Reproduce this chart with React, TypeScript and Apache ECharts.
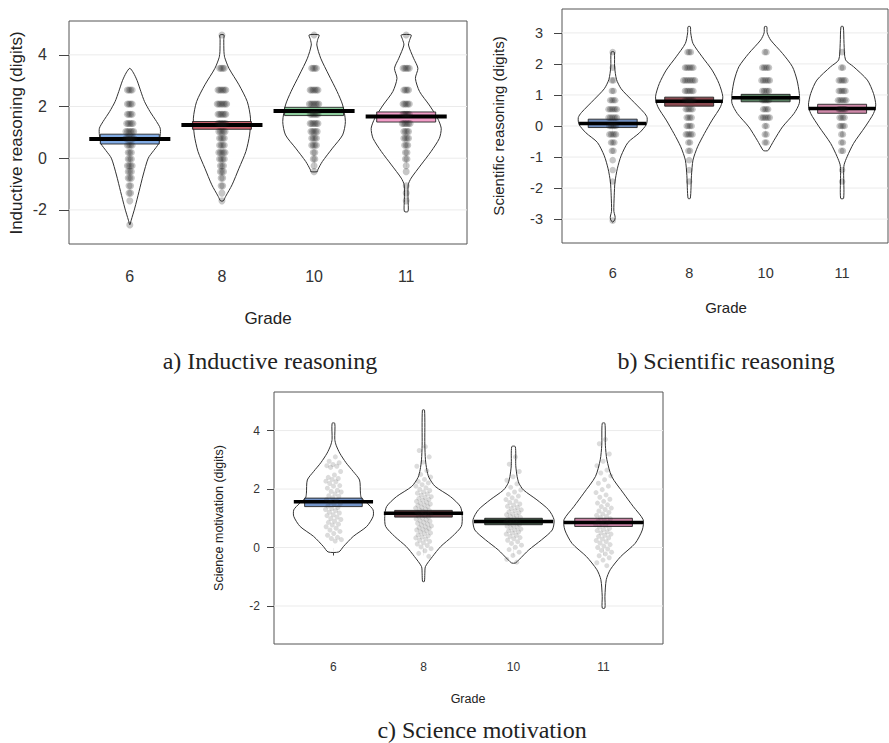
import { useEffect, useRef } from 'react';
import * as echarts from 'echarts';

const grades = ['6', '8', '10', '11'];

// ---------- Panel a: Inductive reasoning ----------
const ticksA = [-2, 0, 2, 4];
const meansA = [0.74, 1.29, 1.83, 1.61];
const hdiLowA = [0.55, 1.12, 1.65, 1.4];
const hdiHighA = [0.93, 1.42, 1.97, 1.79];
const colorsA = ['#6f9fe0', '#c8505c', '#7cc48e', '#f090c0'];
const levelsA = [-2.58, -1.65, -1.35, -1.07, -0.77, -0.52, -0.29, -0.03, 0.22, 0.5, 0.77, 1.03, 1.34, 1.7, 2.1, 2.64, 3.48, 4.77];
const countsA6 = [1, 1, 2, 2, 3, 3, 4, 3, 3, 4, 6, 6, 5, 4, 4, 4, 0, 0];
const countsA8 = [0, 1, 1, 2, 2, 3, 3, 4, 5, 4, 4, 5, 6, 6, 7, 6, 4, 1];
const countsA10 = [0, 0, 0, 0, 0, 1, 1, 2, 2, 4, 4, 5, 6, 6, 7, 6, 4, 1];
const countsA11 = [0, 1, 1, 1, 0, 1, 1, 2, 2, 3, 4, 4, 6, 5, 5, 4, 5, 1];
const violinA6 = [[-2.58, 0], [-2.4, 0.015], [-1.93, 0.054], [-1.29, 0.1], [-0.65, 0.145], [0, 0.2], [0.3, 0.26], [0.55, 0.31], [0.9, 0.33], [1.16, 0.33], [1.42, 0.29], [1.8, 0.22], [2.19, 0.16], [2.58, 0.12], [3.0, 0.08], [3.3, 0.04], [3.48, 0]];
const violinA8 = [[-1.65, 0.015], [-1.48, 0.04], [-1.03, 0.11], [-0.39, 0.185], [0.26, 0.26], [0.9, 0.3], [1.55, 0.31], [2.19, 0.275], [2.84, 0.185], [3.48, 0.076], [3.9, 0.03], [4.12, 0.022], [4.6, 0.02], [4.77, 0.022]];
const violinA10 = [[-0.52, 0.036], [-0.45, 0.04], [-0.13, 0.09], [0.39, 0.2], [0.9, 0.31], [1.42, 0.34], [2.06, 0.31], [2.58, 0.25], [3.22, 0.16], [3.87, 0.072], [4.38, 0.03], [4.6, 0.04], [4.77, 0.054]];
const violinA11 = [[-2.06, 0.02], [-1.6, 0.02], [-1.03, 0.022], [-0.77, 0.054], [-0.26, 0.16], [0.26, 0.27], [0.77, 0.36], [1.16, 0.38], [1.55, 0.34], [2.06, 0.25], [2.58, 0.145], [3.09, 0.1], [3.48, 0.127], [3.87, 0.08], [4.38, 0.025], [4.6, 0.04], [4.77, 0.054]];

// ---------- Panel b: Scientific reasoning ----------
const ticksB = [-3, -2, -1, 0, 1, 2, 3];
const meansB = [0.08, 0.8, 0.91, 0.56];
const hdiLowB = [-0.05, 0.64, 0.78, 0.41];
const hdiHighB = [0.22, 0.93, 1.02, 0.7];
const colorsB = ['#5b7db5', '#7a3038', '#3f6b49', '#c97a9e'];
const levelsB = [-3.05, -2.33, -1.79, -1.42, -1.1, -0.8, -0.53, -0.27, 0.0, 0.27, 0.54, 0.83, 1.13, 1.47, 1.88, 2.38, 3.2];
const countsB6 = [1, 0, 1, 1, 1, 2, 3, 5, 5, 6, 6, 4, 2, 2, 1, 1, 0];
const countsB8 = [0, 0, 1, 1, 1, 2, 2, 5, 4, 4, 5, 6, 6, 8, 6, 3, 0];
const countsB10 = [0, 0, 0, 0, 0, 0, 2, 2, 2, 6, 4, 5, 5, 6, 5, 2, 0];
const countsB11 = [0, 0, 1, 1, 0, 2, 2, 2, 4, 4, 5, 6, 5, 5, 2, 1, 0];
const violinB6 = [[-3.1, 0], [-3.0, 0.03], [-2.9, 0.03], [-2.75, 0.015], [-2.23, 0.02], [-1.8, 0.03], [-1.38, 0.06], [-0.96, 0.11], [-0.53, 0.2], [-0.22, 0.35], [0.05, 0.44], [0.27, 0.45], [0.43, 0.41], [0.86, 0.24], [1.2, 0.11], [1.5, 0.05], [1.9, 0.025], [2.38, 0.02]];
const violinB8 = [[-2.33, 0.015], [-1.6, 0.03], [-1.1, 0.05], [-0.67, 0.11], [-0.24, 0.2], [0.19, 0.3], [0.62, 0.41], [0.94, 0.44], [1.37, 0.39], [1.8, 0.3], [2.23, 0.17], [2.66, 0.05], [3.0, 0.02], [3.2, 0.015]];
const violinB10 = [[-0.8, 0.02], [-0.78, 0.035], [-0.46, 0.11], [-0.03, 0.22], [0.4, 0.37], [0.73, 0.44], [1.05, 0.44], [1.48, 0.41], [1.91, 0.35], [2.34, 0.22], [2.77, 0.065], [3.0, 0.02], [3.2, 0.015]];
const violinB11 = [[-2.33, 0.02], [-1.5, 0.02], [-1.25, 0.026], [-0.99, 0.065], [-0.56, 0.15], [-0.03, 0.3], [0.4, 0.41], [0.68, 0.44], [1.05, 0.41], [1.48, 0.33], [1.91, 0.15], [2.13, 0.045], [2.66, 0.025], [3.2, 0.015]];

// ---------- Panel c: Science motivation ----------
const ticksC = [-2, 0, 2, 4];
const meansC = [1.57, 1.17, 0.89, 0.86];
const hdiLowC = [1.4, 1.04, 0.78, 0.72];
const hdiHighC = [1.69, 1.27, 1.0, 1.0];
const colorsC = ['#5f84c0', '#5a2a30', '#27402d', '#c07096'];
const scoresC6 = [3.1, 2.95, 2.9, 2.84, 2.8, 2.78, 2.74, 2.6, 2.48, 2.4, 2.36, 2.33, 2.27, 2.25, 2.19, 2.12, 2.1, 2.03, 1.96, 1.92, 1.9, 1.83, 1.77, 1.75, 1.7, 1.64, 1.61, 1.55, 1.5, 1.48, 1.42, 1.37, 1.33, 1.3, 1.26, 1.21, 1.18, 1.12, 1.09, 1.04, 0.99, 0.96, 0.9, 0.86, 0.8, 0.77, 0.71, 0.66, 0.6, 0.55, 0.48, 0.42, 0.35, 0.31, 0.27, 0.22];
const scoresC8 = [3.45, 3.32, 3.1, 2.92, 2.78, 2.63, 2.5, 2.41, 2.33, 2.26, 2.21, 2.15, 2.1, 2.04, 1.99, 1.95, 1.9, 1.86, 1.83, 1.79, 1.74, 1.71, 1.68, 1.64, 1.62, 1.58, 1.55, 1.52, 1.49, 1.46, 1.44, 1.4, 1.37, 1.35, 1.31, 1.29, 1.26, 1.23, 1.2, 1.18, 1.15, 1.12, 1.09, 1.07, 1.04, 1.01, 0.98, 0.95, 0.92, 0.9, 0.86, 0.83, 0.8, 0.77, 0.74, 0.71, 0.68, 0.65, 0.62, 0.6, 0.57, 0.53, 0.5, 0.47, 0.43, 0.4, 0.36, 0.33, 0.29, 0.25, 0.21, 0.16, 0.12, 0.07, 0.02, -0.04, -0.11, -0.2, -0.3];
const scoresC10 = [3.1, 2.85, 2.6, 2.42, 2.3, 2.18, 2.06, 1.97, 1.9, 1.82, 1.76, 1.7, 1.64, 1.59, 1.54, 1.49, 1.45, 1.41, 1.37, 1.33, 1.29, 1.26, 1.22, 1.19, 1.15, 1.12, 1.09, 1.06, 1.03, 1.0, 0.97, 0.94, 0.91, 0.88, 0.85, 0.82, 0.79, 0.76, 0.73, 0.7, 0.67, 0.63, 0.6, 0.57, 0.53, 0.5, 0.46, 0.42, 0.38, 0.34, 0.3, 0.25, 0.2, 0.14, 0.08, 0.01, -0.07, -0.16, -0.27, -0.4, -0.5];
const scoresC11 = [3.7, 3.55, 3.2, 2.95, 2.8, 2.65, 2.55, 2.45, 2.32, 2.2, 2.1, 1.98, 1.88, 1.8, 1.72, 1.65, 1.58, 1.52, 1.46, 1.4, 1.35, 1.3, 1.25, 1.2, 1.15, 1.1, 1.06, 1.02, 0.98, 0.94, 0.9, 0.86, 0.82, 0.78, 0.74, 0.7, 0.66, 0.62, 0.58, 0.54, 0.5, 0.46, 0.42, 0.38, 0.33, 0.29, 0.24, 0.2, 0.15, 0.1, 0.05, 0.0, -0.05, -0.1, -0.16, -0.22, -0.28, -0.35, -0.43, -0.52, -0.62];
const violinC6 = [[-0.15, 0.06], [0.03, 0.11], [0.38, 0.22], [0.72, 0.37], [1.06, 0.44], [1.29, 0.44], [1.5, 0.38], [1.7, 0.31], [1.86, 0.3], [2.31, 0.29], [2.6, 0.22], [2.9, 0.14], [3.23, 0.07], [3.5, 0.03], [3.7, 0.015], [4.25, 0.015]];
const violinC8 = [[-1.16, 0.01], [-0.9, 0.015], [-0.65, 0.022], [-0.31, 0.1], [0.03, 0.19], [0.38, 0.32], [0.72, 0.42], [1.06, 0.43], [1.4, 0.41], [1.74, 0.3], [2.09, 0.13], [2.4, 0.06], [2.66, 0.037], [3.0, 0.022], [3.5, 0.015], [4.7, 0.012]];
const violinC10 = [[-0.53, 0.02], [-0.42, 0.06], [-0.08, 0.17], [0.26, 0.31], [0.6, 0.43], [0.95, 0.45], [1.29, 0.39], [1.63, 0.26], [1.97, 0.11], [2.2, 0.06], [2.43, 0.04], [2.8, 0.025], [3.45, 0.02]];
const violinC11 = [[-2.07, 0.015], [-1.67, 0.015], [-1.1, 0.03], [-0.76, 0.074], [-0.31, 0.19], [0.14, 0.35], [0.6, 0.43], [0.95, 0.44], [1.4, 0.33], [1.86, 0.22], [2.43, 0.09], [3.0, 0.037], [3.5, 0.02], [4.25, 0.015]];

const SANS = '"Liberation Sans", Arial, Helvetica, sans-serif';
const SERIF = '"Liberation Serif", "Times New Roman", Times, serif';

function rowPoints(levels: number[], counts: number[][], step: number) {
  const out: number[][] = [];
  counts.forEach((cs, g) => {
    cs.forEach((n, i) => {
      for (let k = 0; k < n; k++) out.push([g + 1 + (k - (n - 1) / 2) * step, levels[i]]);
    });
  });
  return out;
}

function cloudPoints(groups: number[][], jitter: number) {
  const out: number[][] = [];
  groups.forEach((vals, g) => {
    vals.forEach((v, i) => {
      const f = ((i + 1) * 0.6180339887) % 1;
      out.push([g + 1 + (f - 0.5) * 2 * jitter, v]);
    });
  });
  return out;
}

const panels = [
  {
    grid: { left: 69, top: 21, width: 398, height: 223 },
    xMin: 0.34, xMax: 4.66, yMin: -3.32, yMax: 5.31,
    ticks: ticksA, means: meansA, lo: hdiLowA, hi: hdiHighA, colors: colorsA,
    violins: [violinA6, violinA8, violinA10, violinA11],
    points: rowPoints(levelsA, [countsA6, countsA8, countsA10, countsA11], 0.017),
    pointSize: 7, pointColor: 'rgba(20,20,20,0.3)',
    fontSize: 16, xTickLen: 9, yTickLen: 10, xMargin: 24, yMargin: 22, meanWidth: 4,
  },
  {
    grid: { left: 562, top: 9, width: 326, height: 234 },
    xMin: 0.337, xMax: 4.6, yMin: -3.77, yMax: 3.77,
    ticks: ticksB, means: meansB, lo: hdiLowB, hi: hdiHighB, colors: colorsB,
    violins: [violinB6, violinB8, violinB10, violinB11],
    points: rowPoints(levelsB, [countsB6, countsB8, countsB10, countsB11], 0.022),
    pointSize: 6.5, pointColor: 'rgba(20,20,20,0.3)',
    fontSize: 14.5, xTickLen: 10, yTickLen: 8, xMargin: 22, yMargin: 19, meanWidth: 3.5,
  },
  {
    grid: { left: 274, top: 392, width: 389, height: 252 },
    xMin: 0.34, xMax: 4.66, yMin: -3.3, yMax: 5.32,
    ticks: ticksC, means: meansC, lo: hdiLowC, hi: hdiHighC, colors: colorsC,
    violins: [violinC6, violinC8, violinC10, violinC11],
    points: cloudPoints([scoresC6, scoresC8, scoresC10, scoresC11], 0.09),
    pointSize: 5, pointColor: 'rgba(40,40,40,0.2)',
    fontSize: 12, xTickLen: 8, yTickLen: 7, xMargin: 17, yMargin: 14, meanWidth: 3.5,
  },
];

function buildOption() {
  const series: any[] = [];
  panels.forEach((P, p) => {
    series.push({
      type: 'custom', xAxisIndex: p, yAxisIndex: p, silent: true,
      data: P.ticks.map((t) => [t]),
      renderItem: (params: any, api: any) => {
        const cs = params.coordSys;
        const y = api.coord([P.xMin, api.value(0)])[1];
        return { type: 'line', shape: { x1: cs.x, y1: y, x2: cs.x + cs.width, y2: y }, style: { stroke: '#ebebeb', lineWidth: 1 } };
      },
    });
    series.push({
      type: 'custom', xAxisIndex: p, yAxisIndex: p, silent: true,
      data: P.violins.map((_, g) => [g]),
      renderItem: (params: any, api: any) => {
        const g = api.value(0);
        const prof = P.violins[g];
        const cx = g + 1;
        const pts: number[][] = [];
        prof.forEach(([v, hw]) => pts.push(api.coord([cx + hw, v])));
        for (let i = prof.length - 1; i >= 0; i--) {
          const [v, hw] = prof[i];
          if (hw === 0) continue;
          pts.push(api.coord([cx - hw, v]));
        }
        return { type: 'polygon', shape: { points: pts, smooth: 0.25 }, style: { fill: 'rgba(255,255,255,0.92)', stroke: '#333', lineWidth: 1 } };
      },
    });
    series.push({
      type: 'scatter', xAxisIndex: p, yAxisIndex: p, silent: true,
      data: P.points, symbolSize: P.pointSize,
      itemStyle: { color: P.pointColor },
    });
    series.push({
      type: 'custom', xAxisIndex: p, yAxisIndex: p, silent: true,
      data: P.means.map((m, g) => [g, m, P.lo[g], P.hi[g]]),
      renderItem: (params: any, api: any) => {
        const g = api.value(0);
        const cx = g + 1;
        const tl = api.coord([cx - 0.32, api.value(3)]);
        const br = api.coord([cx + 0.32, api.value(2)]);
        const l = api.coord([cx - 0.44, api.value(1)]);
        const r = api.coord([cx + 0.44, api.value(1)]);
        return {
          type: 'group',
          children: [
            { type: 'rect', shape: { x: tl[0], y: tl[1], width: br[0] - tl[0], height: br[1] - tl[1] }, style: { fill: P.colors[g], opacity: 0.88, stroke: '#222', lineWidth: 1 } },
            { type: 'line', shape: { x1: l[0], y1: l[1], x2: r[0], y2: r[1] }, style: { stroke: '#000', lineWidth: P.meanWidth } },
          ],
        };
      },
    });
  });

  const txt = (text: string, x: number, y: number, size: number, family: string, rot = 0) => ({
    type: 'text', x, y, rotation: rot, silent: true,
    style: { text, fontSize: size, fontFamily: family, fill: '#222', align: 'center', verticalAlign: 'middle' },
  });

  return {
    animation: false,
    backgroundColor: '#ffffff',
    grid: panels.map((P) => ({ ...P.grid, show: true, borderColor: '#555', borderWidth: 1, backgroundColor: 'transparent' })),
    xAxis: panels.map((P, i) => ({
      gridIndex: i, type: 'value', min: P.xMin, max: P.xMax,
      axisLine: { show: false }, splitLine: { show: false },
      axisTick: { show: true, length: P.xTickLen, customValues: [1, 2, 3, 4], lineStyle: { color: '#444', width: 1 } },
      axisLabel: { customValues: [1, 2, 3, 4], formatter: (v: number) => grades[Math.round(v) - 1], fontSize: P.fontSize, fontFamily: SANS, color: '#333', margin: P.xMargin },
    })),
    yAxis: panels.map((P, i) => ({
      gridIndex: i, type: 'value', min: P.yMin, max: P.yMax,
      axisLine: { show: false }, splitLine: { show: false },
      axisTick: { show: true, length: P.yTickLen, customValues: P.ticks, lineStyle: { color: '#444', width: 1 } },
      axisLabel: { customValues: P.ticks, formatter: (v: number) => String(v), fontSize: P.fontSize, fontFamily: SANS, color: '#333', margin: P.yMargin },
    })),
    series,
    graphic: [
      txt('Inductive reasoning (digits)', 16, 133, 17, SANS, Math.PI / 2),
      txt('Grade', 268, 318, 17, SANS),
      txt('Scientific reasoning (digits)', 498, 126, 15, SANS, Math.PI / 2),
      txt('Grade', 726, 307, 15, SANS),
      txt('Science motivation (digits)', 219, 518, 12.5, SANS, Math.PI / 2),
      txt('Grade', 468, 699, 12.5, SANS),
      txt('a) Inductive reasoning', 270, 361, 24, SERIF),
      txt('b) Scientific reasoning', 726, 361, 24, SERIF),
      txt('c) Science motivation', 482, 730, 24, SERIF),
    ],
  };
}

export default function App() {
  const ref = useRef<HTMLDivElement>(null);
  useEffect(() => {
    if (!ref.current) return;
    const chart = echarts.init(ref.current, null, { renderer: 'svg' });
    chart.setOption(buildOption() as any);
    return () => chart.dispose();
  }, []);
  return (
    <div
      ref={ref}
      style={{ position: 'fixed', left: 0, top: 0, width: 889, height: 743, background: '#fff' }}
    />
  );
}
